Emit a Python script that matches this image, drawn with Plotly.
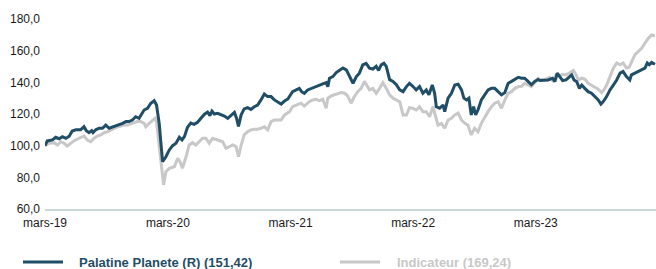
import plotly.graph_objects as go
import pandas as pd

START = "2019-03-01"

pal_days = [0, 7, 22, 32, 42, 52, 62, 72, 81, 92, 106, 116, 123, 131, 139, 143, 151, 161, 171, 181,
            191, 206, 221, 231, 241, 250, 260, 270, 280, 295, 305, 315, 325, 332, 340, 350, 360, 370,
            380, 390, 400, 408, 415, 424, 434, 444, 454, 464, 474, 484, 491, 497, 504, 514, 524, 534,
            544, 554, 564, 570, 576, 584, 593, 603, 613, 623, 633, 643, 653, 663, 673, 683, 693, 703,
            713, 723, 737, 747, 757, 764, 772, 782, 797, 812, 827, 837, 842, 847, 857, 867, 877, 887,
            897, 907, 917, 927, 936, 946, 956, 966, 976, 986, 993, 1001, 1009, 1016, 1026, 1036, 1046,
            1056, 1066, 1076, 1085, 1095, 1105, 1115, 1125, 1135, 1143, 1153, 1160, 1165, 1175, 1185,
            1190, 1200, 1210, 1220, 1230, 1240, 1247, 1255, 1262, 1269, 1276, 1282, 1289, 1299, 1309,
            1319, 1329, 1339, 1349, 1359, 1369, 1379, 1389, 1399, 1409, 1419, 1428, 1438, 1448, 1458,
            1468, 1473, 1488, 1498, 1511, 1518, 1525, 1533, 1541, 1551, 1561, 1568, 1575, 1583, 1591,
            1598, 1607, 1617, 1627, 1637, 1647, 1655, 1662, 1672, 1682, 1692, 1702, 1712, 1721, 1731,
            1741, 1746, 1756, 1766, 1776, 1786, 1793, 1799, 1806, 1816]
pal_vals = [100.0, 103.0, 103.6, 105.3, 104.4, 105.7, 104.6, 106.0, 109.3, 110.0, 110.0, 112.0, 109.5,
            108.2, 109.5, 108.2, 110.0, 111.0, 111.0, 113.0, 111.0, 112.0, 113.0, 114.1, 115.2, 115.2,
            116.2, 118.3, 117.3, 122.5, 123.6, 126.8, 128.4, 125.7, 114.0, 89.9, 93.0, 97.3, 100.0,
            101.5, 105.3, 103.6, 105.7, 111.5, 114.3, 113.5, 114.8, 117.3, 119.7, 121.2, 119.0, 121.8,
            120.0, 120.4, 119.6, 118.7, 117.3, 119.4, 121.0, 117.5, 112.2, 119.5, 123.2, 124.0, 122.9,
            124.6, 125.7, 128.9, 132.6, 131.0, 131.0, 128.9, 127.8, 126.3, 128.2, 129.5, 134.1, 135.2,
            136.2, 134.1, 133.1, 135.2, 136.6, 137.7, 139.0, 139.8, 137.3, 142.6, 143.6, 146.2, 147.5,
            149.0, 147.9, 143.6, 139.4, 143.6, 145.8, 151.0, 152.0, 149.0, 148.4, 150.1, 147.5, 151.0,
            152.0, 150.1, 141.7, 140.6, 138.5, 135.3, 134.1, 137.3, 139.4, 137.5, 135.2, 137.3, 133.1,
            135.2, 132.1, 138.3, 133.1, 124.6, 123.6, 125.7, 121.5, 130.0, 133.1, 138.3, 138.8, 135.2,
            130.0, 128.9, 130.0, 119.4, 124.6, 119.4, 122.5, 128.9, 132.1, 135.2, 136.2, 136.2, 134.1,
            132.1, 133.5, 139.4, 140.6, 141.7, 143.2, 142.6, 142.6, 140.6, 138.5, 140.6, 141.8, 141.1,
            141.1, 141.5, 142.6, 140.4, 145.8, 143.6, 141.1, 141.5, 143.2, 144.7, 141.5, 140.4, 136.2,
            138.3, 136.2, 134.1, 133.1, 131.0, 128.9, 126.3, 127.8, 131.0, 135.2, 138.3, 141.5, 145.8,
            146.8, 143.6, 141.5, 144.7, 145.8, 146.8, 147.9, 149.0, 152.2, 151.1, 152.6, 151.42]

ind_days = [0, 12, 27, 37, 47, 57, 66, 77, 86, 101, 116, 126, 136, 146, 156, 166, 176, 186, 196, 206,
            216, 226, 236, 245, 256, 265, 275, 285, 295, 300, 310, 320, 328, 332, 340, 348, 353, 360,
            370, 385, 395, 402, 409, 420, 429, 439, 449, 459, 469, 479, 489, 499, 509, 519, 529, 539,
            549, 559, 569, 576, 584, 593, 603, 613, 623, 633, 643, 653, 663, 673, 683, 693, 703, 713,
            723, 728, 737, 752, 762, 772, 787, 797, 807, 817, 827, 837, 842, 852, 862, 872, 882, 892,
            901, 911, 921, 931, 941, 951, 959, 966, 976, 986, 996, 1006, 1016, 1026, 1036, 1046, 1056,
            1066, 1076, 1085, 1095, 1105, 1115, 1125, 1135, 1145, 1155, 1163, 1170, 1180, 1190, 1200,
            1210, 1220, 1230, 1240, 1250, 1259, 1269, 1279, 1289, 1299, 1309, 1319, 1329, 1339, 1349,
            1359, 1369, 1379, 1389, 1399, 1409, 1419, 1428, 1438, 1448, 1458, 1468, 1473, 1488, 1503,
            1513, 1521, 1531, 1541, 1551, 1561, 1573, 1581, 1588, 1598, 1607, 1617, 1627, 1637, 1647,
            1657, 1664, 1672, 1682, 1692, 1702, 1712, 1721, 1731, 1739, 1746, 1756, 1766, 1776, 1786,
            1796, 1806, 1816]
ind_vals = [100.0, 101.5, 101.9, 100.4, 102.5, 101.5, 99.8, 101.5, 103.0, 104.7, 106.1, 103.6, 102.5,
            104.7, 106.1, 106.8, 108.2, 108.8, 110.0, 111.0, 112.0, 112.4, 113.0, 113.0, 114.1, 114.5,
            115.2, 115.2, 114.1, 112.0, 114.1, 116.2, 117.3, 115.2, 99.4, 82.5, 75.2, 83.6, 85.7, 86.7,
            92.0, 89.9, 85.7, 93.0, 100.4, 101.9, 100.4, 102.5, 104.7, 104.7, 101.5, 104.7, 104.0,
            103.6, 102.5, 98.3, 99.4, 100.4, 99.4, 93.0, 100.4, 106.8, 108.8, 110.0, 110.4, 110.4,
            111.0, 112.0, 110.0, 115.2, 116.2, 116.0, 116.2, 119.4, 121.0, 121.5, 124.6, 125.7, 126.8,
            125.0, 127.8, 128.9, 129.3, 128.4, 129.3, 123.6, 130.0, 131.4, 132.1, 133.1, 133.5, 133.1,
            131.4, 126.8, 131.0, 134.1, 136.2, 140.6, 137.3, 135.3, 136.2, 133.1, 136.2, 139.8, 136.2,
            132.1, 130.0, 128.9, 127.8, 119.4, 119.4, 124.0, 123.6, 122.5, 124.6, 121.5, 121.5, 118.3,
            124.6, 118.3, 113.0, 114.1, 111.0, 116.2, 117.3, 119.4, 120.6, 116.2, 114.1, 113.0, 106.8,
            111.0, 108.8, 114.1, 118.3, 121.5, 124.6, 126.8, 127.8, 123.6, 128.9, 133.1, 134.1, 136.2,
            137.3, 137.5, 139.4, 138.3, 137.3, 139.8, 142.5, 141.5, 141.8, 143.2, 140.4, 144.7, 144.0,
            145.1, 144.7, 145.8, 147.5, 144.7, 141.5, 142.6, 142.0, 139.4, 138.3, 137.3, 135.7, 133.5,
            135.2, 138.3, 143.6, 149.0, 152.2, 151.1, 152.2, 149.0, 149.5, 153.2, 157.3, 159.4, 161.5,
            164.7, 167.8, 169.9, 169.24]

tick_dates = ["2019-03-01", "2020-03-01", "2021-03-01", "2022-03-01", "2023-03-01"]
tick_labels = ["mars-19", "mars-20", "mars-21", "mars-22", "mars-23"]
y_ticks = [60, 80, 100, 120, 140, 160, 180]
y_labels = ["60,0", "80,0", "100,0", "120,0", "140,0", "160,0", "180,0"]

series_names = ["Palatine Planete (R) (151,42)", "Indicateur (169,24)"]
DARK = "#1f4e66"
GREY = "#c8c8c8"

start = pd.Timestamp(START)
pal_x = [start + pd.Timedelta(days=d) for d in pal_days]
ind_x = [start + pd.Timedelta(days=d) for d in ind_days]
x_end = start + pd.Timedelta(days=1819)

fig = go.Figure()
fig.add_trace(go.Scatter(x=ind_x, y=ind_vals, mode="lines", name=series_names[1],
                         line=dict(color=GREY, width=3), showlegend=False))
fig.add_trace(go.Scatter(x=pal_x, y=pal_vals, mode="lines", name=series_names[0],
                         line=dict(color=DARK, width=3), showlegend=False))

W, H = 656, 269
ML, MR, MT, MB = 45, 0, 19, 60
pw = W - ML - MR
ph = H - MT - MB


def px(xp):
    return (xp - ML) / pw


def py(yp):
    return (H - MB - yp) / ph


leg_y = py(262)
legend_items = [
    (23, 63, 77, series_names[0], DARK),
    (340, 380, 395, series_names[1], GREY),
]
for x0, x1, xt, label, col in legend_items:
    fig.add_shape(type="line", xref="paper", yref="paper", x0=px(x0), x1=px(x1),
                  y0=leg_y, y1=leg_y, line=dict(color=col, width=3))
    fig.add_annotation(xref="paper", yref="paper", x=px(xt), y=leg_y, text="<b>%s</b>" % label,
                       showarrow=False, xanchor="left", yanchor="middle",
                       font=dict(family="Liberation Sans, Arial", size=13, color=col))

fig.update_layout(
    width=W, height=H,
    margin=dict(l=ML, r=MR, t=MT, b=MB),
    paper_bgcolor="white", plot_bgcolor="white",
    font=dict(family="Liberation Sans, Arial", size=12, color="#1a1a1a"),
    xaxis=dict(type="date", range=[start, x_end], tickvals=tick_dates, ticktext=tick_labels,
               showgrid=False, zeroline=False, showline=True, linecolor="#c9d6db", linewidth=2,
               ticks="", ticklabelstandoff=2, tickfont=dict(size=12, color="#1a1a1a")),
    yaxis=dict(range=[60, 180], tickvals=y_ticks, ticktext=y_labels, showgrid=False,
               zeroline=False, showline=False, ticks="", ticklabelstandoff=4,
               tickfont=dict(size=12, color="#1a1a1a")),
)

fig.write_html("out.html", config={"displayModeBar": False},
               post_script="document.body.style.margin='0';")
